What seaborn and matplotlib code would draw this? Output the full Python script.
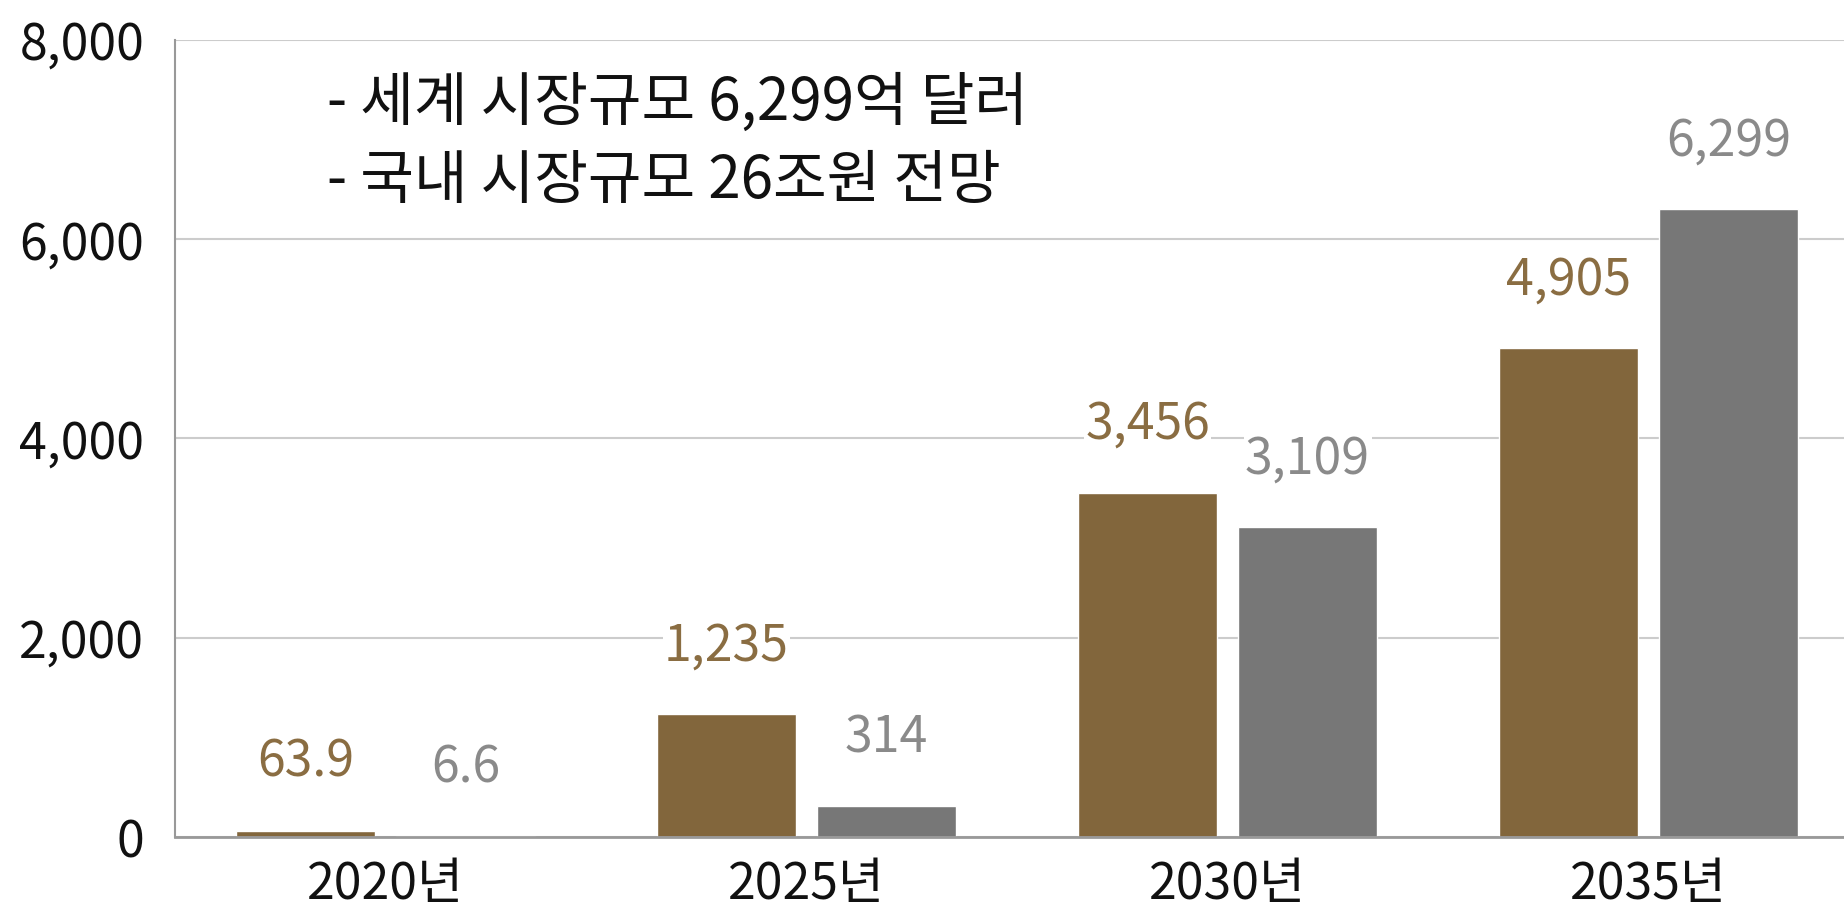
import pandas as pd
import numpy as np
import matplotlib
matplotlib.use("Agg")
import matplotlib.pyplot as plt
import seaborn as sns

years = ["2020년", "2025년", "2030년", "2035년"]
series = ["세계", "국내"]
world_values = [63.9, 1235, 3456, 4905]
korea_values = [6.6, 314, 3109, 6299]
world_labels = ["63.9", "1,235", "3,456", "4,905"]
korea_labels = ["6.6", "314", "3,109", "6,299"]
notes = ["- 세계 시장규모 6,299억 달러", "- 국내 시장규모 26조원 전망"]

bar_colors = ["#82663c", "#777777"]
label_colors = ["#8a6d42", "#8a8a8a"]

def main():
    sns.set_theme(style="white")
    plt.rcParams["font.family"] = ["Noto Sans CJK KR", "DejaVu Sans"]

    df = pd.DataFrame({
        "year": years * 2,
        "series": [series[0]] * 4 + [series[1]] * 4,
        "value": world_values + korea_values,
    })

    fig = plt.figure(figsize=(18.44, 9.21), dpi=100)
    ax = fig.add_axes([0.0949, 0.0912, 0.9051, 0.8654])

    sns.barplot(data=df, x="year", y="value", hue="series", hue_order=series,
                palette=bar_colors, width=0.76, gap=0.13, saturation=1,
                legend=False, ax=ax, zorder=3)

    # value labels, white box so gridlines break behind them
    for cont, labs, col in zip(ax.containers, [world_labels, korea_labels], label_colors):
        txts = ax.bar_label(cont, labels=labs, padding=30, fontsize=36, color=col)
        for t in txts:
            t.set_bbox(dict(facecolor="white", edgecolor="none", pad=1))
            t.set_zorder(4)

    ax.set_xlim(-0.5, 3.464)
    ax.set_ylim(0, 8000)
    ax.set_yticks([0, 2000, 4000, 6000, 8000])
    ax.set_yticklabels([f"{v:,}" for v in [0, 2000, 4000, 6000, 8000]])
    ax.yaxis.grid(True, color="#cccccc", linewidth=1.5, zorder=0)
    ax.set_axisbelow(True)
    ax.tick_params(axis="y", length=0, pad=22, labelsize=36, labelcolor="#111111")
    ax.tick_params(axis="x", length=0, pad=16, labelsize=36, labelcolor="#111111")
    ax.set_xlabel("")
    ax.set_ylabel("")

    for s in ["top", "right"]:
        ax.spines[s].set_visible(False)
    ax.spines["left"].set_color("#999999")
    ax.spines["left"].set_linewidth(1.5)
    ax.spines["bottom"].set_color("#999999")
    ax.spines["bottom"].set_linewidth(2)
    ax.spines["bottom"].set_zorder(5)

    ax.text(0.091, 0.921, notes[0], transform=ax.transAxes, fontsize=42,
            va="center", ha="left", color="#111111")
    ax.text(0.091, 0.822, notes[1], transform=ax.transAxes, fontsize=42,
            va="center", ha="left", color="#111111")

    fig.savefig("out.png", dpi=100, facecolor="white")

if __name__ == "__main__":
    main()
